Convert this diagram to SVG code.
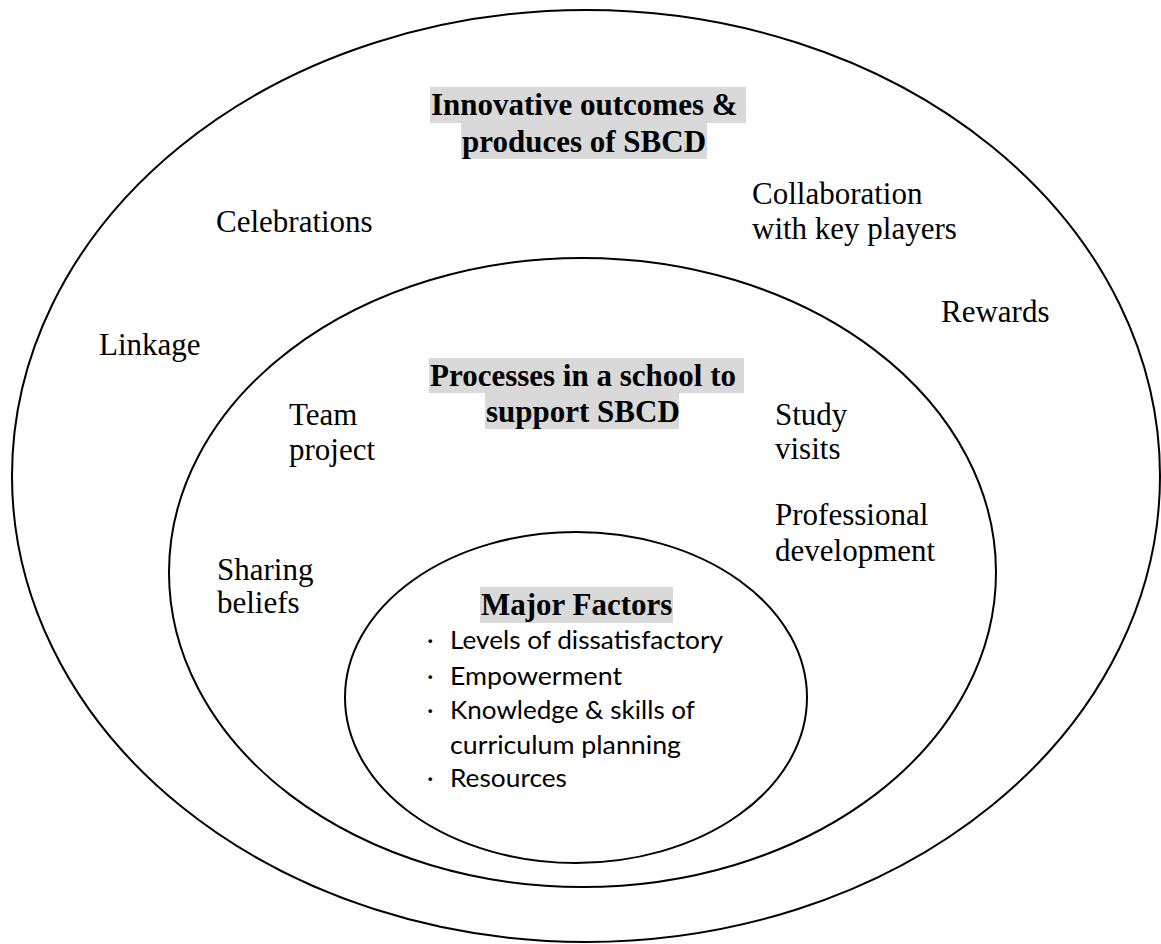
<svg xmlns="http://www.w3.org/2000/svg" width="1161" height="944" viewBox="0 0 1161 944">
<style>
.ring{fill:none;stroke:#000;stroke-width:2}
.hl{fill:#d9d9d9}
.t{font-family:"Liberation Serif","Times New Roman",serif;font-size:31px;fill:#000}
.b{font-weight:bold}
.s{font-family:Lato,"Noto Sans",sans-serif;font-size:25px;fill:#000}
</style>
<rect width="1161" height="944" fill="#fff"/>
<g id="outer">
<ellipse class="ring" cx="586" cy="476" rx="574" ry="466"/>
<rect class="hl" x="430" y="87" width="316" height="36"/>
<rect class="hl" x="461" y="123" width="246" height="36"/>
<text class="t b" x="431" y="115">Innovative outcomes &amp;</text>
<text class="t b" x="462" y="152">produces of SBCD</text>
<text class="t" x="216" y="232">Celebrations</text>
<text class="t" x="99" y="355">Linkage</text>
<text class="t" x="752" y="204">Collaboration</text>
<text class="t" x="752" y="239">with key players</text>
<text class="t" x="941" y="322">Rewards</text>
</g>
<g id="middle">
<ellipse class="ring" cx="582.5" cy="572.5" rx="413.5" ry="314.5"/>
<rect class="hl" x="429" y="358" width="315" height="35"/>
<rect class="hl" x="485" y="393" width="194" height="36"/>
<text class="t b" x="430" y="386">Processes in a school to</text>
<text class="t b" x="486" y="422">support SBCD</text>
<text class="t" x="289" y="425">Team</text>
<text class="t" x="289" y="460">project</text>
<text class="t" x="775" y="425">Study</text>
<text class="t" x="775" y="459">visits</text>
<text class="t" x="775" y="525">Professional</text>
<text class="t" x="775" y="561">development</text>
<text class="t" x="217" y="580">Sharing</text>
<text class="t" x="217" y="613">beliefs</text>
</g>
<g id="inner">
<ellipse class="ring" cx="576" cy="697.5" rx="231" ry="165.5"/>
<rect class="hl" x="480" y="587" width="193" height="36"/>
<text class="t b" x="481" y="615">Major Factors</text>
<text class="s" x="427" y="649">·</text>
<text class="s" x="450" y="649" textLength="273" lengthAdjust="spacingAndGlyphs">Levels of dissatisfactory</text>
<text class="s" x="427" y="685">·</text>
<text class="s" x="450" y="685" textLength="172" lengthAdjust="spacingAndGlyphs">Empowerment</text>
<text class="s" x="427" y="719">·</text>
<text class="s" x="450" y="719" textLength="245" lengthAdjust="spacingAndGlyphs">Knowledge &amp; skills of</text>
<text class="s" x="450" y="754" textLength="231" lengthAdjust="spacingAndGlyphs">curriculum planning</text>
<text class="s" x="427" y="787">·</text>
<text class="s" x="450" y="787" textLength="117" lengthAdjust="spacingAndGlyphs">Resources</text>
</g>
<g id="connectors"></g>
</svg>
